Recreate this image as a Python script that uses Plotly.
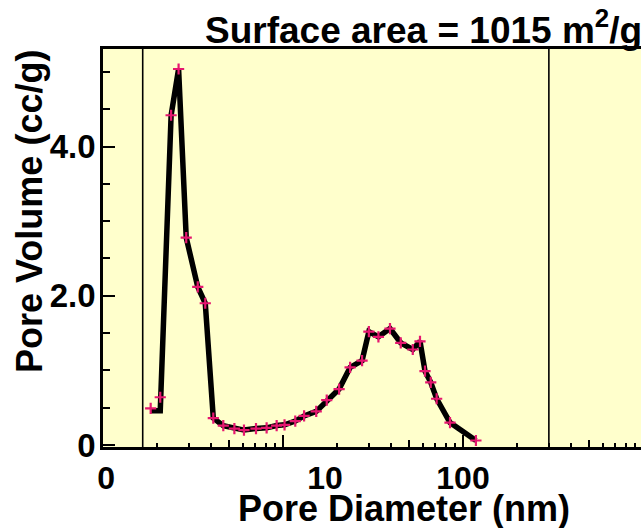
import plotly.graph_objects as go

# Data
diam_nm = [1.84, 2.08, 2.39, 2.63, 2.90, 3.36, 3.70, 4.10, 4.66, 5.37, 6.07, 7.08, 8.11, 9.22,
           10.2, 11.7, 13.1, 15.3, 17.5, 20.5, 23.6, 27.5, 30.0, 33.9, 39.3, 45.1, 52.6, 57.7,
           61.5, 66.2, 71.4, 84.7, 118]
pore_vol = [0.49, 0.64, 4.42, 5.04, 2.78, 2.12, 1.90, 0.36, 0.26, 0.22, 0.20, 0.22, 0.23, 0.26,
            0.27, 0.32, 0.39, 0.45, 0.60, 0.75, 1.04, 1.13, 1.52, 1.45, 1.56, 1.37, 1.28, 1.39,
            0.99, 0.84, 0.62, 0.30, 0.06]
# the drawn curve starts flat before the first rise
line_x = diam_nm
line_y = [0.46, 0.46] + pore_vol[2:]

x_major_ticks = [1, 10, 100]
x_mid_ticks = [5, 50, 500]
x_minor_ticks = [2, 3, 4, 6, 7, 8, 9, 20, 30, 40, 60, 70, 80, 90, 200, 300, 400, 600, 700, 800, 900]
x_label_pos = [1.04, 17.1, 100]
x_label_text = ["0", "10", "100"]
y_major_ticks = [0, 2, 4]
y_major_text = ["0", "2.0", "4.0"]
y_minor_ticks = [0.5, 1.0, 1.5, 2.5, 3.0, 3.5, 4.5, 5.0]
ref_lines_nm = [1.662, 300]

title_text = "<b>Surface area = 1015 m<sup>2</sup>/g</b>"
xtitle = "<b>Pore Diameter (nm)</b>"
ytitle = "<b>Pore Volume (cc/g)</b>"

FONT = "Liberation Sans"
TICK = 32
xr = [0, 2.989]

fig = go.Figure()
fig.add_trace(go.Scatter(x=line_x, y=line_y, mode="lines",
                         line=dict(color="black", width=5.5), xaxis="x", yaxis="y",
                         showlegend=False, hoverinfo="skip"))
fig.add_trace(go.Scatter(x=diam_nm, y=pore_vol, mode="markers",
                         marker=dict(symbol="cross-thin", size=8,
                                     line=dict(color="#e5176f", width=2.2)),
                         xaxis="x2", yaxis="y", showlegend=False))
fig.add_trace(go.Scatter(x=[None], y=[None], xaxis="x3", yaxis="y", showlegend=False))

for xv in ref_lines_nm:
    fig.add_shape(type="line", xref="x", yref="paper", x0=xv, x1=xv, y0=0, y1=1,
                  line=dict(color="black", width=1.6))

fig.update_layout(
    width=641, height=528,
    margin=dict(l=103, r=0, t=49, b=81),
    paper_bgcolor="white", plot_bgcolor="#FFFFCC",
    font=dict(family=FONT, color="black"),
    xaxis=dict(type="log", range=xr, showgrid=False, zeroline=False,
               showline=True, linecolor="black", linewidth=2.5, mirror=True,
               ticks="inside", tickvals=x_major_ticks, ticklen=12, tickwidth=2,
               tickcolor="black", showticklabels=False,
               minor=dict(tickvals=x_minor_ticks, ticks="inside", ticklen=4,
                          tickwidth=1.5, tickcolor="black")),
    xaxis2=dict(type="log", range=xr, overlaying="x", anchor="y", showgrid=False,
                zeroline=False, showline=False, ticks="inside", tickvals=x_mid_ticks,
                ticklen=7, tickwidth=1.5, tickcolor="black", showticklabels=False),
    xaxis3=dict(type="log", range=xr, overlaying="x", anchor="y", showgrid=False,
                zeroline=False, showline=False, ticks="", tickvals=x_label_pos,
                ticktext=x_label_text, ticklabelstandoff=9,
                tickfont=dict(family=FONT, size=TICK, weight="bold", color="black")),
    yaxis=dict(range=[-0.027, 5.308], showgrid=False, zeroline=False,
               showline=True, linecolor="black", linewidth=2.5, mirror=False,
               ticks="inside", tickvals=y_major_ticks, ticktext=y_major_text,
               ticklen=12, tickwidth=2, tickcolor="black", ticklabelstandoff=-2,
               tickfont=dict(family=FONT, size=TICK + 1, weight="bold", color="black"),
               minor=dict(tickvals=y_minor_ticks, ticks="inside", ticklen=7,
                          tickwidth=2, tickcolor="black")),
    annotations=[
        dict(text=title_text, xref="paper", yref="paper", x=(203 - 103) / 538,
             y=1 + (49 - 27) / 398, xanchor="left", yanchor="middle", showarrow=False,
             font=dict(family=FONT, size=37, color="black")),
        dict(text=xtitle, xref="paper", yref="paper", x=(404 - 103) / 538,
             y=-(509 - 447) / 398, xanchor="center", yanchor="middle", showarrow=False,
             font=dict(family=FONT, size=36, color="black")),
        dict(text=ytitle, xref="paper", yref="paper", x=-(103 - 29) / 538,
             y=(447 - 212) / 398, xanchor="center", yanchor="middle", showarrow=False,
             textangle=-90, font=dict(family=FONT, size=36, color="black")),
    ],
)

fig.write_html("out.html")
